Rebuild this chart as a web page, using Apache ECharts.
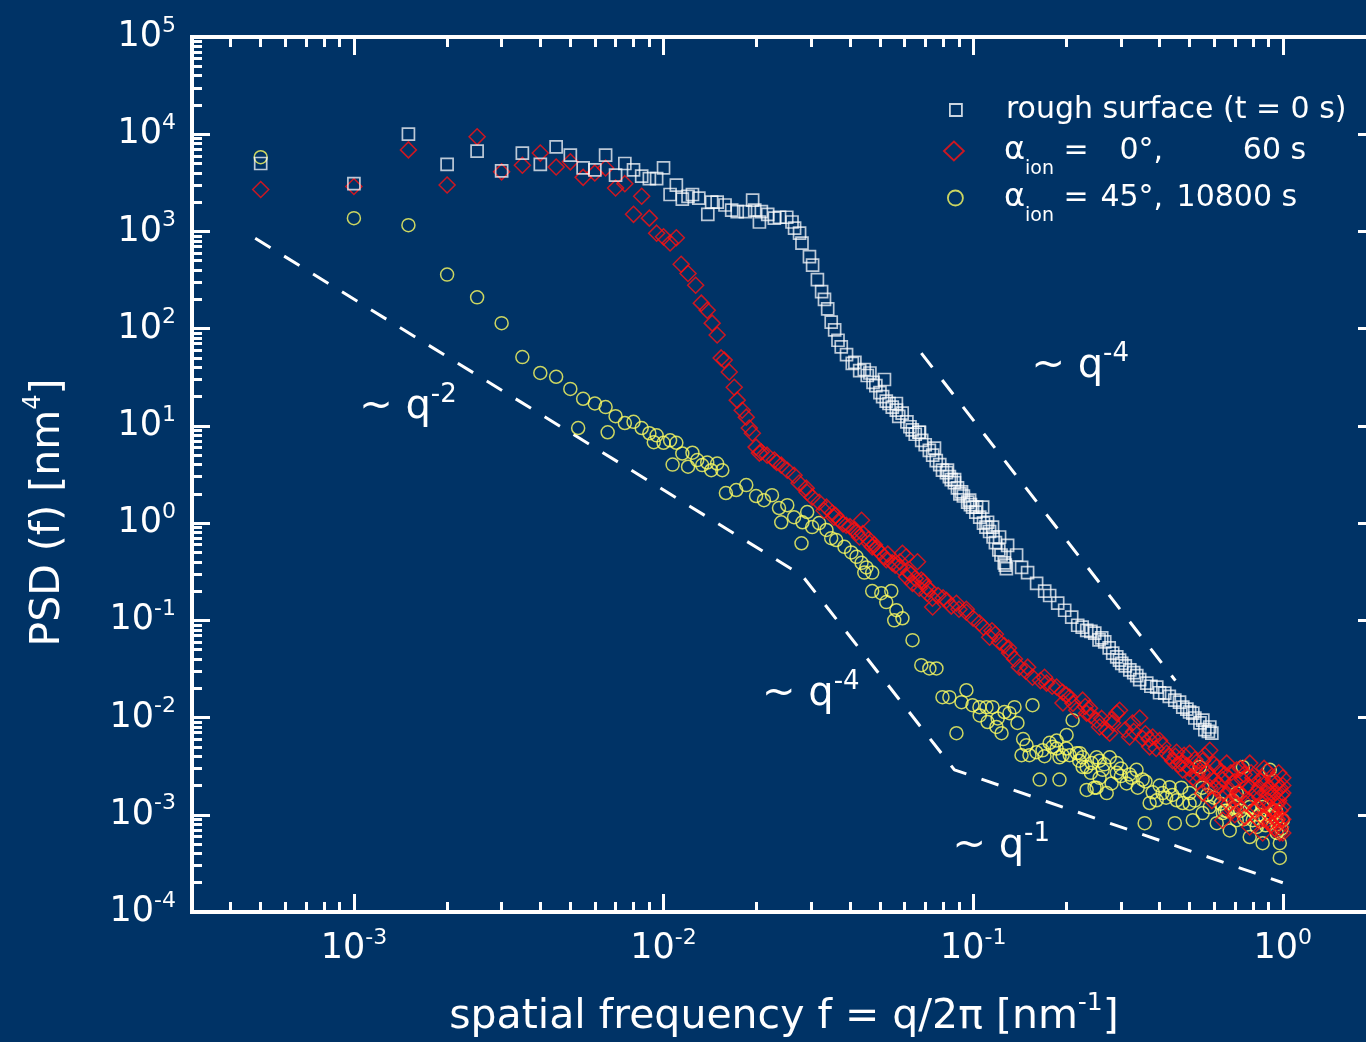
<!DOCTYPE html>
<html><head><meta charset="utf-8">
<script src="https://cdn.jsdelivr.net/npm/echarts@6/dist/echarts.min.js"></script>
<style>html,body{margin:0;padding:0;background:#003366;}#c{width:1366px;height:1042px;}</style>
</head><body><div id="c"></div>
<script>
// ---------- DATA (spatial frequency f [nm^-1], PSD [nm^4]) ----------
const X_RANGE = [3e-4, 2];
const Y_RANGE = [1e-4, 1e5];
const X_TICK_EXP = [-3, -2, -1, 0];
const Y_TICK_EXP = [-4, -3, -2, -1, 0, 1, 2, 3, 4, 5];

const WHITE_F = [5e-4,1e-3,1.5e-3,2e-3,2.5e-3,3e-3,3.5e-3,4e-3,4.5e-3,5e-3,5.5e-3,6e-3,6.5e-3,7e-3,7.5e-3,8e-3,8.5e-3,9e-3,9.5e-3,0.01,
0.0105,0.011,0.0115,0.012,0.0124,0.013,0.0139,0.0143,0.0149,0.0158,0.0166,0.0173,0.0184,0.0194,0.0197,0.0204,0.0207,0.0217,0.0228,0.0237,
0.025,0.026,0.0265,0.0275,0.028,0.0296,0.0303,0.0314,0.0324,0.0331,0.0339,0.0348,0.0357,0.0366,0.0375,0.039,0.0407,0.043,0.0464,0.0475,
0.05,0.0524,0.0548,0.059,0.0611,0.0636,0.0668,0.0682,0.0722,0.076,0.0796,0.0838,0.087,0.0906,0.096,0.0996,0.105,0.11,0.116,0.121,0.126,0.128,
0.0415,0.0445,0.0455,0.0485,0.051,0.0535,0.0565,0.0575,0.0625,0.065,0.07,0.074,0.078,0.082,0.085,0.089,0.093,0.098,0.102,0.108,0.113,0.118,0.123,0.127,
0.0517,0.0565,0.0671,0.075,0.0826,0.0871,0.0917,0.0974,0.1026,0.1073,0.1113,0.1155,0.1217,0.1292,0.1381,0.1434,0.1499,0.1603,0.1702,0.1766,
0.1875,0.1975,0.2081,0.2176,0.2327,0.247,0.2601,0.266,0.2823,0.2909,0.3019,0.3205,0.3376,0.3636,0.3917,0.4157,0.4479,0.4753,0.5121,0.5516,0.5811,0.59,
0.255,0.297,0.345,0.40,0.464,0.52,0.56,0.50,0.225,0.24,0.275,0.31,0.33,0.375,0.43,0.49,0.54,0.575];
const WHITE_PSD = [5000,3100,10000,4900,6700,4200,6400,4900,7400,6100,4500,4300,6100,3800,5000,4300,3700,3500,3500,4500,
2400,3000,2150,2300,2400,2200,1500,2000,2000,1870,1660,1600,1600,2100,1660,1250,1600,1500,1370,1400,
1400,1250,1080,960,760,550,450,320,240,200,160,117,97,76,65,54,44,37,35,28,
22,18,15.6,13.5,11,9.1,8.6,7.1,5.6,4.4,3.5,3.0,2.6,2.0,1.64,1.46,1.15,0.91,0.72,0.53,0.39,0.34,
45,38,33,26,20,17,14.5,12.5,9.8,8.2,6.4,5.0,4.0,3.3,2.8,2.3,1.9,1.55,1.3,1.0,0.82,0.63,0.47,0.37,
30,17,8.6,5.9,3.5,2.8,2.1,1.72,1.46,1.46,1.02,0.91,0.72,0.59,0.47,0.35,0.31,0.24,0.20,0.18,
0.15,0.127,0.108,0.089,0.079,0.074,0.066,0.060,0.046,0.042,0.036,0.031,0.027,0.0226,0.0206,0.0178,0.0151,0.0128,0.0111,0.0094,0.0080,0.0069,
0.063,0.039,0.0245,0.018,0.0144,0.0099,0.0075,0.0114,0.085,0.077,0.052,0.034,0.029,0.021,0.0165,0.0122,0.0088,0.0072];

const RED_F = [5e-4,1e-3,1.5e-3,2e-3,2.5e-3,3e-3,3.5e-3,4e-3,4.5e-3,5e-3,5.5e-3,6e-3,6.5e-3,7e-3,7.5e-3,8e-3,8.5e-3,9e-3,9.5e-3,0.01,
0.0105,0.011,0.0114,0.012,0.0127,0.01324,0.01384,0.01436,0.0149,0.01535,0.0157,0.0163,0.01692,0.0173,0.01795,0.0185,0.01892,0.01936,0.0199,0.0204,
0.0207,0.0216,0.0228,0.0232,0.024,0.0251,0.0264,0.0274,0.0289,0.0291,0.0302,0.0318,0.0336,0.0351,0.0355,0.037,0.0389,0.0413,0.0429,0.0436,
0.0462,0.0472,0.0487,0.0517,0.0524,0.0548,0.0578,0.0591,0.0608,0.0609,0.0637,0.0661,0.067,0.0707,0.071,0.0739,0.074,0.082,0.0883,0.0951,
0.1048,0.113,0.1216,0.131,0.141,0.1555,0.1726,0.186,0.1945,0.195,0.2049,0.216,0.2257,0.2325,0.2377,0.2504,0.256,0.270,0.276,0.282,
0.291,0.297,0.320,0.327,0.345,0.3527,0.3715,0.380,0.400,0.4217,0.4408,0.454,0.475,0.500,0.512,0.527,0.551,0.551,0.581,0.581,
0.612,0.640,0.640,0.659,0.689,0.710,0.710,0.782,0.782,0.782,0.824,0.861,0.861,0.888,0.908,0.956,0.956,0.978,1.0,1.0,1.0,1.0,
0.74,0.675,0.843,0.92,0.755,0.60,0.49,
0.040,0.044,0.050,0.056,0.062,0.065,0.069,0.077,0.085,0.09,0.1,0.108,0.118,0.126,0.136,0.148,0.165,0.18,0.21,0.24,
0.26,0.31,0.36,0.39,0.41,0.43,0.46,0.53,0.57,0.62,0.65,0.69,0.72,0.76,0.80,0.81,0.84,0.87,0.89,0.93,
0.94,0.96,0.98,0.99,0.67,0.59,0.70,0.75,0.88,0.97,0.92,
0.45,0.47,0.48,0.50,0.52,0.53,0.55,0.56,0.58,0.60,0.61,0.63,0.64,0.66,0.68,0.70,0.71,0.73,0.74,0.77,
0.78,0.79,0.82,0.83,0.85,0.86,0.87,0.89,0.90,0.91,0.93,0.94,0.95,0.96,0.97,0.98,0.99,1.0,1.0,0.985,
0.033,0.036,0.038,0.042,0.046,0.048,0.053,0.058,0.063,0.068,0.072,0.08,0.095,0.115,0.13,0.15,0.17,0.2,0.23,0.28,0.33,0.37];
const RED_PSD = [2700,2900,6900,3000,9400,4100,4800,6400,4600,5200,3600,4000,4500,2800,3100,1500,2300,1370,960,880,
760,860,460,370,280,183,155,114,86,50,47.5,35.8,25,18.4,14.5,12.3,9.5,8.4,6.05,5.25,
5.4,5.0,4.45,4.2,3.95,3.5,3.1,2.58,2.29,2.08,1.85,1.64,1.46,1.27,1.15,1.07,0.95,0.85,0.72,1.07,
0.62,0.57,0.55,0.45,0.42,0.39,0.35,0.49,0.45,0.28,0.24,0.40,0.214,0.22,0.19,0.169,0.137,0.161,0.150,0.121,
0.094,0.067,0.060,0.046,0.033,0.026,0.0226,0.0206,0.0182,0.0141,0.0162,0.0119,0.0151,0.0111,0.0125,0.0094,0.0080,0.0074,0.0069,0.0088,
0.0111,0.0119,0.0063,0.0088,0.0099,0.0061,0.0050,0.0063,0.0058,0.0043,0.0036,0.0044,0.0029,0.0043,0.0024,0.0031,0.0036,0.00167,0.0046,0.00192,
0.0031,0.00167,0.00088,0.0034,0.00111,0.0029,0.00152,0.0034,0.00192,0.00075,0.0012,0.0024,0.00065,0.00167,0.0012,0.0021,0.00088,0.00065,0.0024,0.00167,0.0012,0.00065,
0.0023,0.0018,0.0015,0.0011,0.00095,0.0023,0.0032,
0.92,0.78,0.50,0.37,0.31,0.27,0.25,0.18,0.14,0.13,0.105,0.085,0.072,0.055,0.040,0.030,0.024,0.021,0.014,0.0105,
0.0098,0.0075,0.0068,0.0048,0.0052,0.0040,0.0033,0.0026,0.0028,0.0020,0.0026,0.0021,0.0017,0.0013,0.0024,0.0011,0.0019,0.0009,0.0028,0.0016,
0.00072,0.0013,0.0019,0.0009,0.0013,0.0014,0.0010,0.0026,0.0021,0.0027,0.0008,
0.0040,0.0034,0.0041,0.0030,0.0037,0.0022,0.0027,0.0041,0.0025,0.0033,0.0019,0.0028,0.0023,0.0016,0.0027,0.0022,0.0013,0.0030,0.0016,0.0020,
0.0014,0.0027,0.0017,0.0009,0.0022,0.0013,0.0030,0.0014,0.0019,0.00085,0.0023,0.0011,0.0017,0.0009,0.0014,0.0011,0.0016,0.0009,0.0020,0.00075,
1.35,1.2,0.98,0.80,0.68,0.60,0.48,0.40,0.30,0.26,0.21,0.17,0.13,0.078,0.052,0.033,0.026,0.017,0.013,0.0095,0.0072,0.0060];

const YELLOW_F = [5e-4,1e-3,1.5e-3,2e-3,2.5e-3,3e-3,3.5e-3,4e-3,4.5e-3,5e-3,5.3e-3,5.5e-3,6e-3,6.5e-3,6.6e-3,7e-3,7.5e-3,8e-3,8.5e-3,9e-3,
9.3e-3,9.5e-3,0.01,0.0105,0.0107,0.011,0.0115,0.012,0.0124,0.01285,0.01333,0.01384,0.01426,0.0149,0.01548,0.0159,0.01717,0.0185,0.0199,0.0211,
0.0224,0.0236,0.024,0.0251,0.0264,0.0279,0.0281,0.0291,0.0302,0.0318,0.0336,0.0348,0.0361,0.0384,0.0404,0.042,0.0436,0.0452,0.0445,0.0472,
0.0472,0.0505,0.0524,0.0544,0.0565,0.0591,0.0556,0.0637,0.068,0.0722,0.0761,0.0796,0.0838,0.0883,0.0917,0.0951,0.0995,0.1048,0.1104,0.1113,
0.1155,0.1189,0.1235,0.1262,0.131,0.136,0.139,0.1433,0.1487,0.152,0.1555,0.160,0.164,0.1675,0.1766,0.1805,0.186,0.186,0.190,0.190,
0.1945,0.2003,0.205,0.2095,0.216,0.221,0.2257,0.2257,0.2325,0.2325,0.2414,0.2466,0.2504,0.2504,0.256,0.256,0.262,0.270,0.276,0.280,
0.291,0.291,0.313,0.325,0.337,0.3527,0.358,0.3715,0.3915,0.409,0.431,0.448,0.454,0.475,0.500,0.512,0.539,0.551,0.581,0.612,
0.640,0.674,0.710,0.710,0.743,0.782,0.782,0.824,0.861,0.861,0.908,0.956,0.978,0.978,1.0,
0.30,0.34,0.38,0.42,0.47,0.52,0.57,0.63,0.66,0.69,0.73,0.76,0.80,0.84,0.88,0.92,0.95,0.99,
0.105,0.12,0.145,0.17,0.2,0.22,0.24,0.265,0.3,0.32,0.36,0.40,0.44,0.50,0.55,0.6,0.65,0.7,0.75,0.8,0.85,0.9,0.96];
const YELLOW_PSD = [5800,1370,1160,360,210,114,51,35,32,24,9.5,19,17,15.6,8.6,12.6,10.7,11,9.5,8.4,
6.8,8.0,6.7,7.1,4.0,6.7,5.2,3.8,5.3,4.45,3.95,4.2,3.5,4.1,3.5,2.04,2.19,2.46,1.9,1.72,
1.94,1.43,1.02,1.53,1.15,0.62,1.02,1.30,0.91,1.0,0.85,0.70,0.67,0.57,0.50,0.45,0.39,0.35,0.31,0.31,
0.20,0.19,0.154,0.20,0.127,0.105,0.10,0.0625,0.0346,0.032,0.032,0.0162,0.0162,0.0069,0.0144,0.0191,0.0134,0.0128,0.0128,0.0090,
0.0128,0.0080,0.0069,0.0114,0.0111,0.0128,0.0088,0.0041,0.0052,0.0041,0.0134,0.0044,0.0023,0.0046,0.0055,0.0050,0.0048,0.0058,0.0039,0.0023,
0.0041,0.0066,0.0041,0.0094,0.0043,0.0043,0.0039,0.0031,0.0031,0.0018,0.0034,0.0019,0.0039,0.0019,0.0036,0.0024,0.0029,0.00167,0.0039,0.0021,
0.0034,0.0027,0.0021,0.0024,0.0029,0.0023,0.00082,0.00132,0.00141,0.00167,0.00192,0.00082,0.00141,0.00132,0.00167,0.00088,0.0031,0.00104,0.0012,0.00082,
0.00104,0.00069,0.00167,0.00088,0.0031,0.0012,0.00059,0.00075,0.0012,0.00051,0.0029,0.00065,0.00051,0.00036,0.00088,
0.0025,0.0019,0.0017,0.0015,0.0019,0.0014,0.0016,0.0013,0.0011,0.0014,0.0011,0.00095,0.00088,0.0010,0.00078,0.00095,0.0011,0.00072,
0.0105,0.0098,0.0060,0.0040,0.0048,0.0036,0.0027,0.0033,0.0030,0.0026,0.0022,0.0020,0.0016,0.0013,0.0019,0.0015,0.0011,0.0012,0.0009,0.0011,0.00085,0.0010,0.0008];

// guide lines (power laws)
const GUIDE1_F = [4.8e-4, 0.028, 0.087, 1.0];
const GUIDE1_PSD = [850, 0.29, 0.0029, 2.0e-4];
const GUIDE2_F = [0.068, 0.45];
const GUIDE2_PSD = [56, 0.024];

// annotations "~ q^n"
const ANNOT_F = [1.04e-3, 0.1543, 0.0208, 0.0857];
const ANNOT_PSD = [15.6, 41, 0.0174, 4.75e-4];
const ANNOT_EXP = ['-2', '-4', '-4', '-1'];

// ---------- CHART ----------
const L = Math.log10;
const pairs = (F, V) => F.map((f, i) => [L(f), L(V[i])]);
const FONT = 'DejaVu Sans';
const WHITE = '#ffffff';
const xMin = L(X_RANGE[0]), xMax = L(X_RANGE[1]);
const yMin = L(Y_RANGE[0]), yMax = L(Y_RANGE[1]);

function minorTicks(lo, hi) {
  const out = [];
  for (let n = Math.floor(lo) - 1; n <= Math.ceil(hi); n++) {
    for (let k = 2; k <= 9; k++) {
      const v = n + L(k);
      if (v > lo + 1e-6 && v < hi - 1e-6) out.push(v);
    }
  }
  return out;
}
const X_MINOR = minorTicks(xMin, xMax);
const Y_MINOR = minorTicks(yMin, yMax);

const tickRich = {
  b: { fontSize: 35, lineHeight: 44, color: WHITE, fontFamily: FONT },
  s: { fontSize: 22, lineHeight: 22, verticalAlign: 'top', color: WHITE, fontFamily: FONT }
};
const powLabel = v => '{b|10}{s|' + Math.round(v) + '}';
const lineW = { color: WHITE, width: 4, cap: 'square' };
const tickW = { color: WHITE, width: 3 };

function axisSet(dim) {
  const isX = dim === 'x';
  const min = isX ? xMin : yMin, max = isX ? xMax : yMax;
  const major = isX ? X_TICK_EXP : Y_TICK_EXP;
  const minor = isX ? X_MINOR : Y_MINOR;
  const sides = isX ? ['bottom', 'top'] : ['left', 'right'];
  const axes = [];
  sides.forEach((pos, si) => {
    axes.push({
      type: 'value', gridIndex: 0, position: pos, min, max,
      axisLine: { show: true, onZero: false, lineStyle: lineW },
      axisTick: { show: true, inside: true, length: 18, customValues: major, lineStyle: tickW },
      axisLabel: si === 0 ? {
        show: true, customValues: major, formatter: powLabel, rich: tickRich,
        margin: isX ? 15 : 16, color: WHITE, fontFamily: FONT
      } : { show: false },
      splitLine: { show: false }
    });
    axes.push({
      type: 'value', gridIndex: 0, position: pos, min, max,
      axisLine: { show: false, onZero: false },
      axisTick: { show: true, inside: true, length: 10, customValues: minor, lineStyle: tickW },
      axisLabel: { show: false },
      splitLine: { show: false }
    });
  });
  return axes;
}

const xAxes = axisSet('x');
xAxes[0].name = 'spatial frequency f = q/2π [nm{s|-1}]';
xAxes[0].nameLocation = 'middle';
xAxes[0].nameGap = 79;
xAxes[0].nameTextStyle = {
  color: WHITE, fontSize: 41, lineHeight: 52, fontFamily: FONT,
  rich: { s: { fontSize: 25, lineHeight: 25, verticalAlign: 'top', color: WHITE, fontFamily: FONT } }
};
const yAxes = axisSet('y');
yAxes[0].name = 'PSD (f) [nm{s|4}]';
yAxes[0].nameLocation = 'middle';
yAxes[0].nameGap = 118;
yAxes[0].nameTextStyle = {
  color: WHITE, fontSize: 41, lineHeight: 52, fontFamily: FONT, padding: [0, 76, 0, 0],
  rich: { s: { fontSize: 24, lineHeight: 24, verticalAlign: 'top', color: WHITE, fontFamily: FONT } }
};

const legRich = {
  a: { fontSize: 32, fontFamily: FONT, color: WHITE },
  sub: { fontSize: 19, lineHeight: 19, verticalAlign: 'bottom', fontFamily: FONT, color: WHITE },
  eq: { fontSize: 30, fontFamily: FONT, color: WHITE },
  ang: { fontSize: 30, width: 65, align: 'right', fontFamily: FONT, color: WHITE },
  tm2: { fontSize: 30, width: 143, align: 'right', fontFamily: FONT, color: WHITE },
  tm3: { fontSize: 30, width: 134, align: 'right', fontFamily: FONT, color: WHITE }
};
function legend(name, icon, w, h, left, top, sp, text, border) {
  return {
    show: true, data: [name], icon, itemWidth: w, itemHeight: h, left, top, padding: 0,
    orient: 'vertical', selectedMode: false,
    itemStyle: { color: 'transparent', borderColor: border, borderWidth: 1.8 },
    formatter: () => text,
    textStyle: {
      color: WHITE, fontSize: 30, lineHeight: 56, fontFamily: FONT,
      rich: Object.assign({ sp: { width: sp, fontSize: 30 } }, legRich)
    }
  };
}

const SQ_COLOR = '#ffffff';
const RED = '#ff1010';
const YEL = '#ffff60';

const option = {
  backgroundColor: '#003366',
  animation: false,
  grid: { left: 192, top: 37, width: 1184, height: 875, containLabel: false, outerBoundsMode: 'none', show: false },
  xAxis: xAxes,
  yAxis: yAxes,
  legend: [
    legend('rough', 'rect', 12, 12, 949, 82, 39, '{sp| }rough surface (t = 0 s)', SQ_COLOR),
    legend('a0', 'diamond', 20, 19, 943, 123, 35, '{sp| }{a|α}{sub|ion}{eq| = }{ang|0°,}{tm2|60 s}', RED),
    legend('a45', 'circle', 15, 15, 947, 170, 36, '{sp| }{a|α}{sub|ion}{eq| = }{ang|45°,}{tm3|10800 s}', YEL)
  ],
  series: [
    {
      type: 'line', data: pairs(GUIDE1_F, GUIDE1_PSD), showSymbol: false, symbol: 'none', silent: true, z: 2,
      lineStyle: { color: WHITE, width: 3, type: [18, 16] }
    },
    {
      type: 'line', data: pairs(GUIDE2_F, GUIDE2_PSD), showSymbol: false, symbol: 'none', silent: true, z: 2,
      lineStyle: { color: WHITE, width: 3, type: [18, 16] }
    },
    {
      name: 'a45', type: 'scatter', data: pairs(YELLOW_F, YELLOW_PSD), symbol: 'circle', symbolSize: 13, z: 3,
      itemStyle: { color: 'transparent', borderColor: YEL, borderWidth: 1.5 }, silent: true
    },
    {
      name: 'a0', type: 'scatter', data: pairs(RED_F, RED_PSD), symbol: 'diamond', symbolSize: 16, z: 4,
      itemStyle: { color: 'transparent', borderColor: RED, borderWidth: 1.5 }, silent: true
    },
    {
      name: 'rough', type: 'scatter', data: pairs(WHITE_F, WHITE_PSD), symbol: 'rect', symbolSize: 12, z: 5,
      itemStyle: { color: 'transparent', borderColor: 'rgba(255,255,255,0.92)', borderWidth: 1.7 }, silent: true
    },
    {
      type: 'custom', silent: true, z: 6,
      data: ANNOT_F.map((f, i) => [L(f), L(ANNOT_PSD[i])]),
      renderItem: (params, api) => {
        const p = api.coord([api.value(0), api.value(1)]);
        return {
          type: 'text', x: p[0], y: p[1],
          style: {
            text: '~ q{s|' + ANNOT_EXP[params.dataIndex] + '}',
            fill: WHITE, fontSize: 40, fontFamily: FONT, lineHeight: 50,
            align: 'left', verticalAlign: 'middle',
            rich: { s: { fontSize: 26, lineHeight: 26, verticalAlign: 'top', fill: WHITE, fontFamily: FONT } }
          }
        };
      }
    }
  ]
};
const chart = echarts.init(document.getElementById('c'), null, { renderer: 'canvas' });
chart.setOption(option);
</script></body></html>
